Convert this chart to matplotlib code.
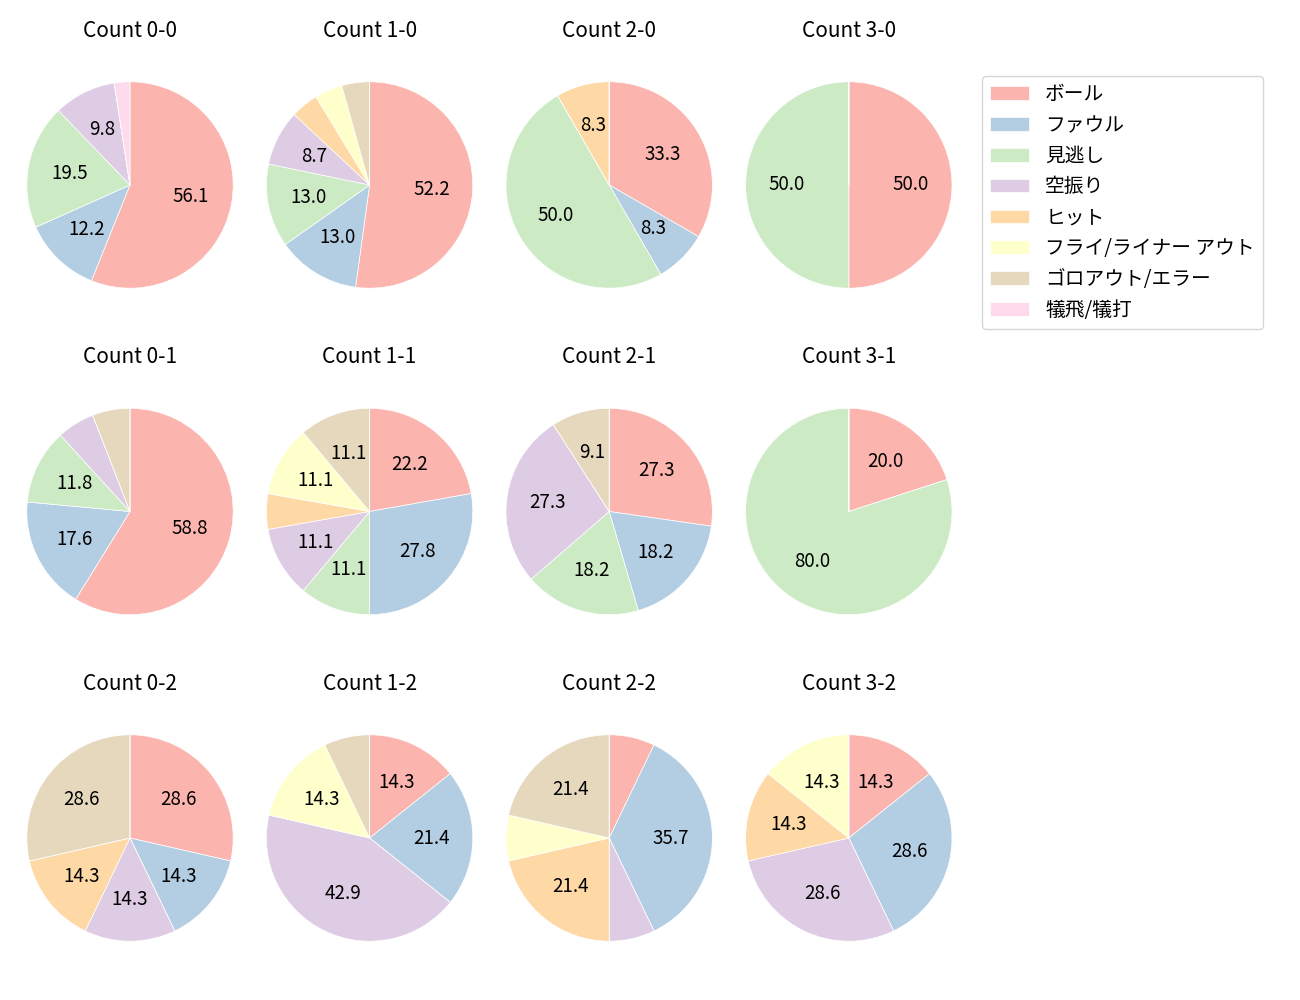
import matplotlib
matplotlib.use("Agg")
import matplotlib.pyplot as plt

plt.rcParams['font.family'] = ['Noto Sans CJK JP', 'DejaVu Sans']

labels = ['ボール', 'ファウル', '見逃し', '空振り', 'ヒット',
          'フライ/ライナー アウト', 'ゴロアウト/エラー', '犠飛/犠打']
colors = ['#fbb4ae', '#b3cde3', '#ccebc5', '#decbe4',
          '#fed9a6', '#ffffcc', '#e5d8bd', '#fddaec']

# pitch counts per ball-strike count, in the order of labels
counts = {
    '0-0': [23, 5, 8, 4, 0, 0, 0, 1],
    '1-0': [12, 3, 3, 2, 1, 1, 1, 0],
    '2-0': [4, 1, 6, 0, 1, 0, 0, 0],
    '3-0': [1, 0, 1, 0, 0, 0, 0, 0],
    '0-1': [10, 3, 2, 1, 0, 0, 1, 0],
    '1-1': [4, 5, 2, 2, 1, 2, 2, 0],
    '2-1': [3, 2, 2, 3, 0, 0, 1, 0],
    '3-1': [1, 0, 4, 0, 0, 0, 0, 0],
    '0-2': [2, 1, 0, 1, 1, 0, 2, 0],
    '1-2': [2, 3, 0, 6, 0, 2, 1, 0],
    '2-2': [1, 5, 0, 1, 3, 1, 3, 0],
    '3-2': [1, 2, 0, 2, 1, 1, 0, 0],
}

fig = plt.figure(figsize=(13, 10), dpi=100)

size = 258
handles = None
for r, strikes in enumerate(['0', '1', '2']):
    for c, balls in enumerate(['0', '1', '2', '3']):
        key = f'{balls}-{strikes}'
        cx = 130 + 239.6 * c
        cy = 185 + 326.5 * r
        ax = fig.add_axes([(cx - size / 2) / 1300, 1 - (cy + size / 2) / 1000,
                           size / 1300, size / 1000])
        wedges, _, _ = ax.pie(counts[key], colors=colors, startangle=90,
                              counterclock=False,
                              autopct=lambda p: f'{p:.1f}' if p >= 8 else '',
                              textprops={'fontsize': 13.5},
                              wedgeprops={'edgecolor': 'white', 'linewidth': 0.5})
        ax.set_title(f'Count {key}', fontsize=15, pad=14)
        if handles is None:
            handles = wedges

fig.legend(handles, labels, loc='upper left', bbox_to_anchor=(982 / 1300, 1 - 76 / 1000),
           borderaxespad=0, fontsize=14.2)

fig.savefig('out.png')
